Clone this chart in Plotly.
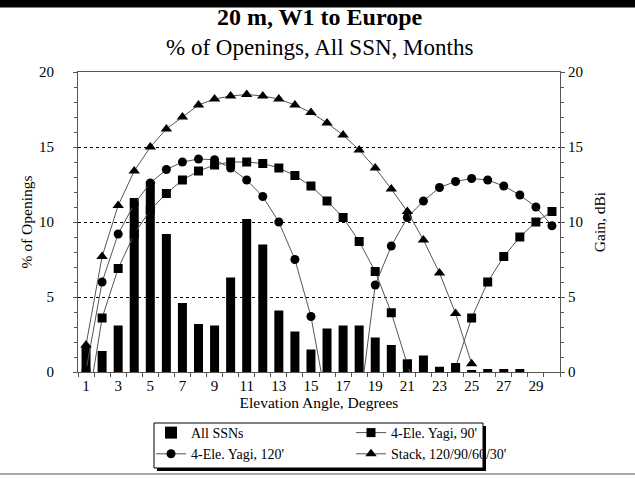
import plotly.graph_objects as go

# elevation angle, degrees
angles = list(range(1, 31))

# % of openings, all SSNs
all_ssn = [1.7, 1.4, 3.1, 11.6, 12.7, 9.2, 4.6, 3.2, 3.1, 6.3,
           10.2, 8.5, 4.1, 2.7, 1.5, 2.9, 3.1, 3.1, 2.3, 1.8,
           0.85, 1.1, 0.35, 0.45, 0.12, 0.2, 0.2, 0.2, 0, 0]

# gain, dBi
yagi_90 = [-3.0, 3.6, 6.9, 9.2, 10.8, 11.9, 12.8, 13.4, 13.8, 14.0,
           14.0, 13.9, 13.6, 13.1, 12.4, 11.4, 10.3, 8.7, 6.7, 3.95,
           0.5, -3.0, -2.0, 0.3, 3.6, 6.0, 7.7, 9.0, 10.0, 10.7]
yagi_120 = [0.1, 6.0, 9.2, 11.2, 12.6, 13.5, 14.0, 14.2, 14.15, 13.6,
            12.8, 11.7, 10.0, 7.5, 3.7, -2.5, -8.0, -2.5, 5.8, 8.4,
            10.3, 11.4, 12.3, 12.7, 12.9, 12.8, 12.4, 11.8, 11.0, 9.75]
stack = [1.8, 7.7, 11.1, 13.4, 15.0, 16.2, 17.0, 17.8, 18.2, 18.4,
         18.5, 18.4, 18.2, 17.8, 17.3, 16.6, 15.8, 14.8, 13.6, 12.2,
         10.7, 8.8, 6.6, 3.9, 0.55, None, None, None, None, None]

x_ticks = list(range(1, 30, 2))

FONT = "Liberation Serif, Times New Roman, serif"
W, H = 635, 479
L, R, T, B = 78, 75, 72, 107
PW, PH = W - L - R, H - T - B


def px_x(v):
    return (v - L) / PW


def px_y(v):
    return (H - B - v) / PH


fig = go.Figure()

fig.add_trace(go.Bar(
    x=angles, y=all_ssn, name="All SSNs",
    marker_color="black", marker_line_width=0,
    legend="legend",
))

line_style = dict(color="#555", width=1)
fig.add_trace(go.Scatter(
    x=angles, y=yagi_90, name="4-Ele. Yagi, 90'", yaxis="y2",
    mode="lines+markers", line=line_style,
    marker=dict(symbol="square", size=9, color="black"),
    legend="legend2",
))
fig.add_trace(go.Scatter(
    x=angles, y=yagi_120, name="4-Ele. Yagi, 120'", yaxis="y2",
    mode="lines+markers", line=line_style,
    marker=dict(symbol="circle", size=9, color="black"),
    legend="legend",
))
fig.add_trace(go.Scatter(
    x=angles, y=stack, name="Stack, 120/90/60/30'", yaxis="y2",
    mode="lines+markers", line=line_style,
    marker=dict(symbol="triangle-up", size=10, color="black"),
    legend="legend2",
))

axis_font = dict(family=FONT, size=15.5, color="black")
tick_font = dict(family=FONT, size=15, color="black")
legend_font = dict(family=FONT, size=14, color="black")

fig.update_layout(
    width=W, height=H,
    margin=dict(l=L, r=R, t=T, b=B, autoexpand=False),
    paper_bgcolor="white", plot_bgcolor="white",
    font=dict(family=FONT, color="black"),
    bargap=0.44,
    xaxis=dict(
        range=[0.5, 30.5], tickvals=x_ticks, ticks="", tickfont=tick_font,
        showline=True, linecolor="#555", linewidth=1, mirror=True,
        showgrid=False, zeroline=False,
        minor=dict(tick0=0.5, dtick=1, ticks="outside", ticklen=4,
                   tickcolor="#555"),
        title=dict(text="Elevation Angle, Degrees", font=axis_font, standoff=4),
    ),
    yaxis=dict(
        range=[0, 20], dtick=5, ticks="outside", ticklen=4, tickcolor="#555",
        tickfont=tick_font, ticklabelstandoff=16,
        showline=True, linecolor="#555", linewidth=1,
        showgrid=True, gridcolor="black", griddash="3px,3px", gridwidth=1,
        zeroline=False,
        minor=dict(dtick=1, ticks="outside", ticklen=3, tickcolor="#555"),
        title=dict(text="% of Openings", font=axis_font, standoff=2),
    ),
    yaxis2=dict(
        range=[0, 20], dtick=5, overlaying="y", side="right", anchor="x",
        ticks="outside", ticklen=4, tickcolor="#555", tickfont=tick_font,
        showline=True, linecolor="#555", linewidth=1,
        showgrid=False, zeroline=False,
        minor=dict(dtick=1, ticks="outside", ticklen=3, tickcolor="#555"),
        title=dict(text="Gain, dBi", font=axis_font, standoff=12),
    ),
    # inner halves of the crossing ticks
    xaxis2=dict(
        range=[0.5, 30.5], overlaying="x", side="bottom", anchor="y",
        tick0=0.5, dtick=1, ticks="inside", ticklen=3, tickcolor="#555",
        showticklabels=False, showgrid=False, zeroline=False,
    ),
    yaxis3=dict(
        range=[0, 20], overlaying="y", side="left", anchor="x",
        dtick=1, ticks="inside", ticklen=3, tickcolor="#555",
        showticklabels=False, showgrid=False, zeroline=False,
    ),
    yaxis4=dict(
        range=[0, 20], overlaying="y", side="right", anchor="x",
        dtick=1, ticks="inside", ticklen=3, tickcolor="#555",
        showticklabels=False, showgrid=False, zeroline=False,
    ),
    legend=dict(
        x=px_x(151), y=px_y(417), xanchor="left", yanchor="top",
        bgcolor="rgba(0,0,0,0)", borderwidth=0, font=legend_font,
        tracegroupgap=0, itemwidth=30,
    ),
    legend2=dict(
        x=px_x(351), y=px_y(417), xanchor="left", yanchor="top",
        bgcolor="rgba(0,0,0,0)", borderwidth=0, font=legend_font,
        tracegroupgap=0, itemwidth=30,
    ),
    showlegend=True,
)

# header bar, footer rule, legend frame with drop shadow
fig.add_shape(type="rect", xref="paper", yref="paper",
              x0=px_x(0), x1=px_x(W), y0=px_y(0), y1=px_y(7),
              fillcolor="black", line=dict(color="black", width=1))
fig.add_shape(type="line", xref="paper", yref="paper",
              x0=px_x(0), x1=px_x(W), y0=px_y(474), y1=px_y(474),
              line=dict(color="#555", width=1))
fig.add_shape(type="rect", xref="paper", yref="paper",
              x0=px_x(157), x1=px_x(486), y0=px_y(426), y1=px_y(471),
              fillcolor="black", line_width=0)
fig.add_shape(type="rect", xref="paper", yref="paper",
              x0=px_x(154), x1=px_x(483), y0=px_y(423), y1=px_y(468),
              fillcolor="white", line=dict(color="black", width=1))

fig.add_annotation(text="<b>20 m, W1 to Europe</b>", xref="paper", yref="paper",
                   x=0.5, y=px_y(17), xanchor="center", yanchor="middle",
                   showarrow=False, font=dict(family=FONT, size=24, color="black"))
fig.add_annotation(text="% of Openings, All SSN, Months", xref="paper", yref="paper",
                   x=0.5, y=px_y(48), xanchor="center", yanchor="middle",
                   showarrow=False, font=dict(family=FONT, size=23, color="black"))

# let the figure sit flush with the page corner
fig.write_html("out.html", config={"displayModeBar": False},
               post_script="document.body.style.margin='0';")
